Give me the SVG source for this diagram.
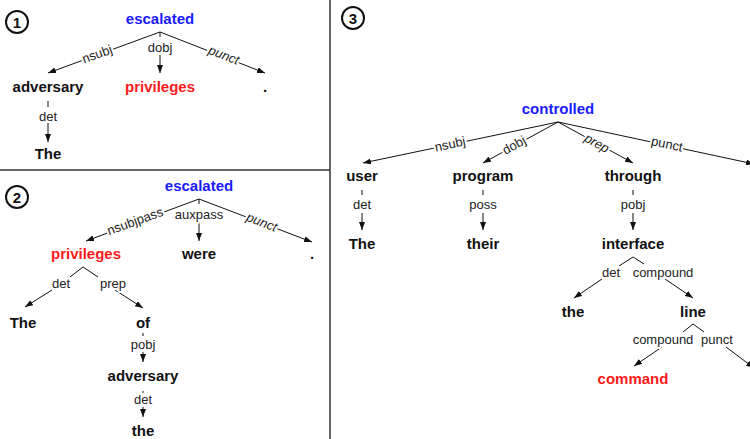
<svg xmlns="http://www.w3.org/2000/svg" width="750" height="439" viewBox="0 0 750 439">
  <style>
    .w { font-family: "Liberation Sans", Arial, sans-serif; font-size: 15px; font-weight: bold; text-anchor: middle; fill: #111; }
    .root { fill: #1a1aff; }
    .hl { fill: #ff1a1a; }
    .lbl { font-family: "Liberation Sans", Arial, sans-serif; font-size: 13px; text-anchor: middle; dominant-baseline: central; fill: #222; stroke: #fff; stroke-width: 4px; paint-order: stroke; stroke-linejoin: round; }
    .it { font-style: italic; }
    .e { stroke: #111; stroke-width: 1; fill: none; }
    .a { marker-end: url(#arr); }
    .frame { stroke: #333; stroke-width: 1.5; fill: none; }
    .num circle { fill: none; stroke: #111; stroke-width: 2; }
    .num text { font-family: "Liberation Sans", Arial, sans-serif; font-size: 15px; font-weight: bold; text-anchor: middle; fill: #111; }
  </style>
  <defs>
    <marker id="arr" markerUnits="userSpaceOnUse" markerWidth="8" markerHeight="6" refX="8" refY="3" orient="auto">
      <path d="M0,0 L8,3 L0,6 z" fill="#111"/>
    </marker>
  </defs>
  <rect width="750" height="439" fill="#fff"/>

  <!-- panel frame -->
  <g id="frame">
    <line class="frame" x1="0" y1="170" x2="330" y2="170"/>
    <line class="frame" x1="330" y1="0" x2="330" y2="439"/>
  </g>

  <!-- panel numbers -->
  <g id="num1" class="num"><circle cx="17" cy="22" r="11"/><text x="17" y="27.5">1</text></g>
  <g id="num2" class="num"><circle cx="17" cy="197" r="11"/><text x="17" y="202.5">2</text></g>
  <g id="num3" class="num"><circle cx="353" cy="18" r="11"/><text x="353" y="23.5">3</text></g>

  <!-- connectors -->
  <g id="connectors">
    <!-- panel 1 -->
    <line class="e a" x1="160" y1="32" x2="48" y2="73"/>
    <line class="e a" x1="160" y1="32" x2="265" y2="73"/>
    <line class="e" x1="160" y1="32" x2="160" y2="37"/>
    <line class="e a" x1="160" y1="55" x2="160" y2="73"/>
    <line class="e" x1="48" y1="101" x2="48" y2="107"/>
    <line class="e a" x1="48" y1="123" x2="48" y2="142"/>
    <text class="lbl" x="97" y="54" transform="rotate(-20 97 54)">nsubj</text>
    <text class="lbl it" x="224" y="55" transform="rotate(21 224 55)">punct</text>
    <text class="lbl" x="160" y="47">dobj</text>
    <text class="lbl" x="48" y="116">det</text>

    <!-- panel 2 -->
    <line class="e a" x1="199" y1="199" x2="86" y2="241"/>
    <line class="e a" x1="199" y1="199" x2="312" y2="242"/>
    <line class="e" x1="199" y1="199" x2="199" y2="204"/>
    <line class="e a" x1="199" y1="222" x2="199" y2="241"/>
    <text class="lbl" x="135" y="221" transform="rotate(-20 135 221)">nsubjpass</text>
    <text class="lbl it" x="262" y="222" transform="rotate(21 262 222)">punct</text>
    <text class="lbl" x="199" y="214">auxpass</text>
    <line class="e" x1="83" y1="267" x2="70" y2="277"/>
    <line class="e a" x1="52" y1="290" x2="25" y2="307"/>
    <line class="e" x1="83" y1="267" x2="98" y2="277"/>
    <line class="e a" x1="115" y1="290" x2="143" y2="308"/>
    <text class="lbl" x="61" y="283">det</text>
    <text class="lbl" x="113" y="283">prep</text>
    <line class="e" x1="143" y1="333" x2="143" y2="336"/>
    <line class="e a" x1="143" y1="352" x2="143" y2="362"/>
    <text class="lbl" x="143" y="344">pobj</text>
    <line class="e" x1="143" y1="391" x2="143" y2="393"/>
    <line class="e a" x1="143" y1="407" x2="143" y2="417"/>
    <text class="lbl" x="143" y="399">det</text>

    <!-- panel 3 -->
    <line class="e a" x1="558" y1="122" x2="363" y2="163"/>
    <line class="e a" x1="558" y1="122" x2="483" y2="163"/>
    <line class="e a" x1="558" y1="122" x2="633" y2="163"/>
    <line class="e a" x1="558" y1="122" x2="754" y2="164"/>
    <text class="lbl" x="450" y="144" transform="rotate(-12 450 144)">nsubj</text>
    <text class="lbl" x="514" y="145" transform="rotate(-29 514 145)">dobj</text>
    <text class="lbl it" x="597" y="143" transform="rotate(29 597 143)">prep</text>
    <text class="lbl" x="667" y="144" transform="rotate(12 667 144)">punct</text>

    <line class="e" x1="362" y1="190" x2="362" y2="195"/>
    <line class="e a" x1="362" y1="213" x2="362" y2="230"/>
    <text class="lbl" x="362" y="204">det</text>
    <line class="e" x1="483" y1="190" x2="483" y2="195"/>
    <line class="e a" x1="483" y1="213" x2="483" y2="230"/>
    <text class="lbl" x="483" y="204">poss</text>
    <line class="e" x1="633" y1="190" x2="633" y2="195"/>
    <line class="e a" x1="633" y1="213" x2="633" y2="230"/>
    <text class="lbl" x="633" y="204">pobj</text>

    <line class="e" x1="633" y1="257" x2="619" y2="266"/>
    <line class="e a" x1="602" y1="279" x2="574" y2="298"/>
    <line class="e" x1="633" y1="257" x2="644" y2="264"/>
    <line class="e a" x1="665" y1="279" x2="693" y2="298"/>
    <text class="lbl" x="611" y="272">det</text>
    <text class="lbl" x="663" y="272">compound</text>

    <line class="e" x1="693" y1="324" x2="683" y2="332"/>
    <line class="e a" x1="662" y1="347" x2="634" y2="366"/>
    <line class="e" x1="693" y1="324" x2="704" y2="332"/>
    <line class="e a" x1="726" y1="347" x2="754" y2="368"/>
    <text class="lbl" x="663" y="339">compound</text>
    <text class="lbl" x="717" y="339">punct</text>
  </g>

  <!-- panel 1 nodes -->
  <g id="p1-escalated"><text class="w root" x="160" y="24">escalated</text></g>
  <g id="p1-adversary"><text class="w" x="48" y="92">adversary</text></g>
  <g id="p1-privileges"><text class="w hl" x="160" y="92">privileges</text></g>
  <g id="p1-period"><text class="w" x="265" y="92">.</text></g>
  <g id="p1-The"><text class="w" x="48" y="159">The</text></g>

  <!-- panel 2 nodes -->
  <g id="p2-escalated"><text class="w root" x="199" y="191">escalated</text></g>
  <g id="p2-privileges"><text class="w hl" x="86" y="259">privileges</text></g>
  <g id="p2-were"><text class="w" x="199" y="259">were</text></g>
  <g id="p2-period"><text class="w" x="312" y="259">.</text></g>
  <g id="p2-The"><text class="w" x="23" y="328">The</text></g>
  <g id="p2-of"><text class="w" x="143" y="328">of</text></g>
  <g id="p2-adversary"><text class="w" x="143" y="381">adversary</text></g>
  <g id="p2-the"><text class="w" x="143" y="436">the</text></g>

  <!-- panel 3 nodes -->
  <g id="p3-controlled"><text class="w root" x="558" y="113.5">controlled</text></g>
  <g id="p3-user"><text class="w" x="362" y="180.5">user</text></g>
  <g id="p3-program"><text class="w" x="483" y="180.5">program</text></g>
  <g id="p3-through"><text class="w" x="633" y="180.5">through</text></g>
  <g id="p3-The"><text class="w" x="362" y="249">The</text></g>
  <g id="p3-their"><text class="w" x="483" y="249">their</text></g>
  <g id="p3-interface"><text class="w" x="633" y="249">interface</text></g>
  <g id="p3-the"><text class="w" x="573" y="317">the</text></g>
  <g id="p3-line"><text class="w" x="693" y="317">line</text></g>
  <g id="p3-command"><text class="w hl" x="633" y="384">command</text></g>
</svg>
